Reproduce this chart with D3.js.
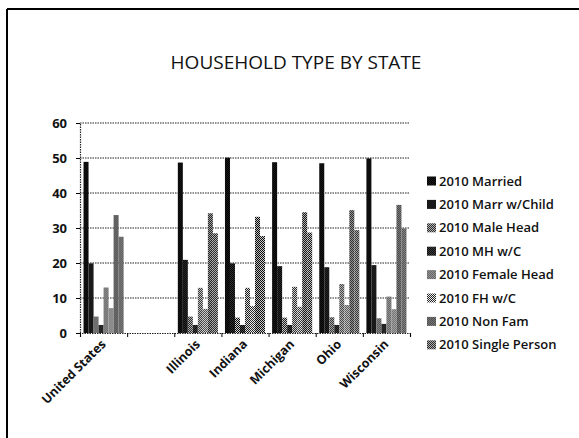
<!DOCTYPE html>
<html>
<head>
<meta charset="utf-8">
<script src="https://cdn.jsdelivr.net/npm/d3@7"></script>
<style>
  body { margin: 0; background: #fff; }
  svg { display: block; font-family: "Open Sans", "Lato", sans-serif; }
</style>
</head>
<body>
<svg id="chart"></svg>
<script>
var states = ["United States", "", "Illinois", "Indiana", "Michigan", "Ohio", "Wisconsin"];
var seriesNames = ["2010 Married", "2010 Marr w/Child", "2010 Male Head", "2010 MH w/C",
                   "2010 Female Head", "2010 FH w/C", "2010 Non Fam", "2010 Single Person"];
var married     = [48.9, null, 48.7, 50.1, 48.8, 48.5, 49.9];
var marrChild   = [19.9, null, 20.9, 19.9, 19.1, 18.8, 19.4];
var maleHead    = [4.7,  null, 4.7,  4.4,  4.4,  4.5,  4.2];
var mhChild     = [2.3,  null, 2.3,  2.3,  2.3,  2.3,  2.6];
var femaleHead  = [13.0, null, 12.9, 12.9, 13.2, 14.0, 10.4];
var fhChild     = [7.1,  null, 6.9,  7.7,  7.5,  8.0,  6.8];
var nonFam      = [33.7, null, 34.2, 33.2, 34.5, 35.1, 36.6];
var single      = [27.5, null, 28.5, 27.7, 28.7, 29.4, 29.9];
var yTicks = [0, 10, 20, 30, 40, 50, 60];

var series = [married, marrChild, maleHead, mhChild, femaleHead, fhChild, nonFam, single];

var W = 579, H = 438;
var margin = {top: 123, left: 80, right: 169, bottom: 105};
var width = W - margin.left - margin.right,
    height = H - margin.top - margin.bottom;

var svg = d3.select("#chart").attr("width", W).attr("height", H);

// dither-like fills: [light base, dark dots]
var fills = [
  ["#1a1a1a", "#000"],
  ["#333333", "#000"],
  ["#dddddd", "#000"],
  ["#4a4a4a", "#000"],
  ["#e8e8e8", "#111"],
  ["#f4f4f4", "#222"],
  ["#c4c4c4", "#000"],
  ["#d8d8d8", "#000"]
];
var defs = svg.append("defs");
fills.forEach(function(f, i) {
  var p = defs.append("pattern")
      .attr("id", "pat" + i)
      .attr("width", 2).attr("height", 2)
      .attr("patternUnits", "userSpaceOnUse");
  p.append("rect").attr("width", 2).attr("height", 2).attr("fill", f[0]);
  p.append("rect").attr("width", 1).attr("height", 1).attr("fill", f[1]);
  p.append("rect").attr("x", 1).attr("y", 1).attr("width", 1).attr("height", 1).attr("fill", f[1]);
});

// frame (only top and left edges visible)
svg.append("line").attr("x1", 7).attr("y1", 9).attr("x2", W).attr("y2", 9)
  .attr("stroke", "#000").attr("stroke-width", 2);
svg.append("line").attr("x1", 7).attr("y1", 9).attr("x2", 7).attr("y2", H)
  .attr("stroke", "#000").attr("stroke-width", 2);

svg.append("text")
  .attr("x", 296).attr("y", 69)
  .attr("text-anchor", "middle")
  .attr("font-size", 19)
  .attr("fill", "#111")
  .text("HOUSEHOLD TYPE BY STATE");

var g = svg.append("g").attr("transform", "translate(" + margin.left + "," + margin.top + ")");

var x0 = d3.scaleBand().domain(d3.range(states.length)).range([0, width])
    .paddingInner(0.15).paddingOuter(0.075);
var x1 = d3.scaleBand().domain(d3.range(series.length)).range([0, x0.bandwidth()]);
var y = d3.scaleLinear().domain([0, 60]).range([height, 0]);

// gridlines
g.selectAll(".grid").data(yTicks.slice(1)).enter().append("line")
  .attr("class", "grid")
  .attr("x1", 0).attr("x2", width)
  .attr("y1", function(d) { return y(d); })
  .attr("y2", function(d) { return y(d); })
  .attr("stroke", "#222").attr("stroke-width", 1.2)
  .attr("stroke-dasharray", "1.5,1");

// bars
var groups = g.selectAll(".state").data(states).enter().append("g")
  .attr("transform", function(d, i) { return "translate(" + x0(i) + ",0)"; });
groups.selectAll("rect")
  .data(function(d, i) { return series.map(function(s, k) { return {k: k, v: s[i]}; }); })
  .enter().filter(function(d) { return d.v != null; })
  .append("rect")
  .attr("x", function(d) { return x1(d.k); })
  .attr("width", x1.bandwidth())
  .attr("y", function(d) { return y(d.v); })
  .attr("height", function(d) { return height - y(d.v); })
  .attr("fill", function(d) { return "url(#pat" + d.k + ")"; });

// y axis
var yAxis = g.append("g").call(d3.axisLeft(y).tickValues(yTicks).tickSize(4).tickPadding(9));
yAxis.select(".domain").attr("stroke", "#222").attr("stroke-dasharray", "1.5,1").attr("stroke-width", 1.2);
yAxis.selectAll("text").attr("font-size", 13).attr("font-weight", "bold").attr("fill", "#111")
  .attr("font-family", "Open Sans, sans-serif");

// x axis: ticks on category boundaries
var xb = d3.scaleLinear().domain([0, states.length]).range([0, width]);
var xAxis = g.append("g").attr("transform", "translate(0," + height + ")")
  .call(d3.axisBottom(xb).tickValues(d3.range(states.length + 1)).tickSize(4).tickFormat(""));
xAxis.select(".domain").attr("stroke", "#222").attr("stroke-dasharray", "1.5,1").attr("stroke-width", 1.2);

g.selectAll(".xlab").data(states).enter().append("text")
  .attr("class", "xlab")
  .attr("transform", function(d, i) {
    return "translate(" + (x0(i) + x0.bandwidth() / 2 + 3) + "," + (height + 12) + ") rotate(-45)";
  })
  .attr("text-anchor", "end")
  .attr("font-size", 12.5).attr("font-weight", "bold").attr("fill", "#111")
  .text(function(d) { return d; });

// legend
var legend = svg.append("g").attr("transform", "translate(427,181)");
var items = legend.selectAll("g").data(seriesNames).enter().append("g")
  .attr("transform", function(d, i) { return "translate(0," + (i * 23.4) + ")"; });
items.append("rect").attr("x", 0).attr("y", -4.5).attr("width", 9).attr("height", 9)
  .attr("fill", function(d, i) { return "url(#pat" + i + ")"; });
items.append("text").attr("x", 12).attr("y", 0).attr("dy", "0.35em")
  .attr("font-size", 13).attr("font-weight", 600).attr("fill", "#111")
  .text(function(d) { return d; });
</script>
</body>
</html>
